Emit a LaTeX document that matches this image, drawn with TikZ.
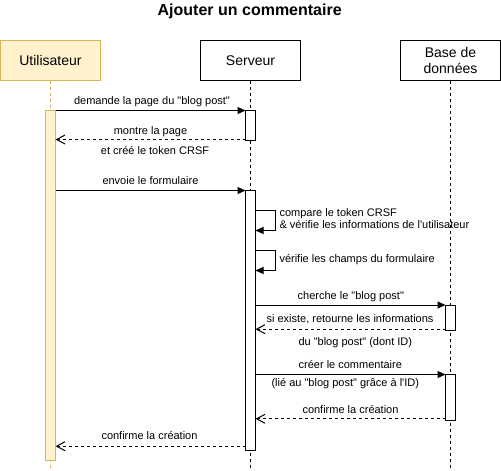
\documentclass[tikz,border=0pt]{standalone}
\usepackage{fontspec}
\setmainfont{Liberation Sans}[Ligatures=TeXOff]
\usetikzlibrary{arrows.meta}
\definecolor{yfill}{HTML}{FFF2CC}
\definecolor{yline}{HTML}{D6B656}
\tikzset{
  actorbox/.style={draw=black, fill=white, line width=1pt, minimum width=100pt, minimum height=40pt, inner sep=0pt, outer sep=0pt, font=\fontsize{14}{15.7}\selectfont, align=center},
  userbox/.style={actorbox, draw=yline, fill=yfill},
  lifeline/.style={line width=1pt, dash pattern=on 3pt off 3pt},
  actbar/.style={draw=black, fill=white, line width=1pt, minimum width=10pt, inner sep=0pt, outer sep=0pt},
  msg/.style={line width=1pt, -{Triangle[length=8pt,width=7pt]}},
  ret/.style={line width=1pt, dash pattern=on 3pt off 3pt, -{Straight Barb[length=8.5pt,width=9pt]}},
  lbl/.style={font=\fontsize{11}{13}\selectfont, anchor=base, inner sep=0pt},
  lblw/.style={lbl, anchor=base west},
}
\begin{document}
\begin{tikzpicture}[x=1pt,y=-1pt]
\useasboundingbox (0,0) rectangle (501,471);
\begin{scope}[shift={(0.5,0.5)}]
\node[font=\bfseries\fontsize{16}{19}\selectfont, anchor=base, inner sep=0pt] (title) at (249.2,15.2) {Ajouter un commentaire};
% actors
\node[userbox] (user) at (50,60) {Utilisateur};
\node[actorbox] (srv) at (250,60) {Serveur};
\node[actorbox] (db) at (450,60) {Base de\\données};
% lifelines
\coordinate (uend) at (50,467);
\coordinate (send) at (250,467);
\coordinate (dend) at (450,467);
\draw[lifeline, draw=yline] (user.south) -- (uend);
\draw[lifeline] (srv.south) -- (send);
\draw[lifeline] (db.south) -- (dend);
% activation bars
\node[actbar, draw=yline, fill=yfill, minimum height=350pt] (ub) at (50,285) {};
\node[actbar, minimum height=30pt] (sb1) at (250,125) {};
\node[actbar, minimum height=260pt] (sb2) at (250,320) {};
\node[actbar, minimum height=25.5pt] (db1) at (450,317.25) {};
\node[actbar, minimum height=46pt] (db2) at (450,397) {};
% messages
\draw[msg] (ub.east |- sb1.north) -- (sb1.north west);
\node[lbl] (l1) at (151.5,104) {demande la page du "blog post"};
\coordinate (r1) at ([yshift=1pt]sb1.south west);
\draw[ret] (r1) -- (ub.east |- r1);
\node[lbl] (l2) at (150,133.5) {montre la page};
\node[lbl] (l3) at (154.5,154.2) {et créé le token CRSF};
\draw[msg] (ub.east |- sb2.north) -- (sb2.north west);
\node[lbl] (l4) at (150,183.8) {envoie le formulaire};
% self messages
\coordinate (s1a) at (255,210);
\coordinate (s1b) at (255,230);
\draw[msg] (s1a) -- ++(20,0) |- (s1b);
\node[lblw] (l5) at (278.8,215.5) {compare le token CRSF};
\node[lblw] (l6) at (278.8,227.8) {\& vérifie les informations de l'utilisateur};
\coordinate (s2a) at (255,250);
\coordinate (s2b) at (255,270);
\draw[msg] (s2a) -- ++(20,0) |- (s2b);
\node[lblw] (l7) at (278.8,261.8) {vérifie les champs du formulaire};
% database
\draw[msg] (sb2.east |- db1.north) -- (db1.north west);
\node[lbl] (l8) at (350.3,298.8) {cherche le "blog post"};
\coordinate (r2) at ([yshift=1.3pt]db1.south west);
\draw[ret] (r2) -- (sb2.east |- r2);
\node[lbl] (l9) at (349.5,321.8) {si existe, retourne les informations};
\node[lbl] (l10) at (354.8,344.5) {du "blog post" (dont ID)};
\draw[msg] (sb2.east |- db2.north) -- (db2.north west);
\node[lbl] (l11) at (349.8,367.8) {créer le commentaire};
\node[lbl] (l12) at (344.8,386.2) {(lié au "blog post" grâce à l'ID)};
\coordinate (r3) at ([yshift=1.7pt]db2.south west);
\draw[ret] (r3) -- (sb2.east |- r3);
\node[lbl] (l13) at (350,412.8) {confirme la création};
\coordinate (r4) at ([yshift=4.3pt]sb2.south west);
\draw[ret] (r4) -- (ub.east |- r4);
\node[lbl] (l14) at (149,438.5) {confirme la création};
\end{scope}
\end{tikzpicture}
\end{document}
